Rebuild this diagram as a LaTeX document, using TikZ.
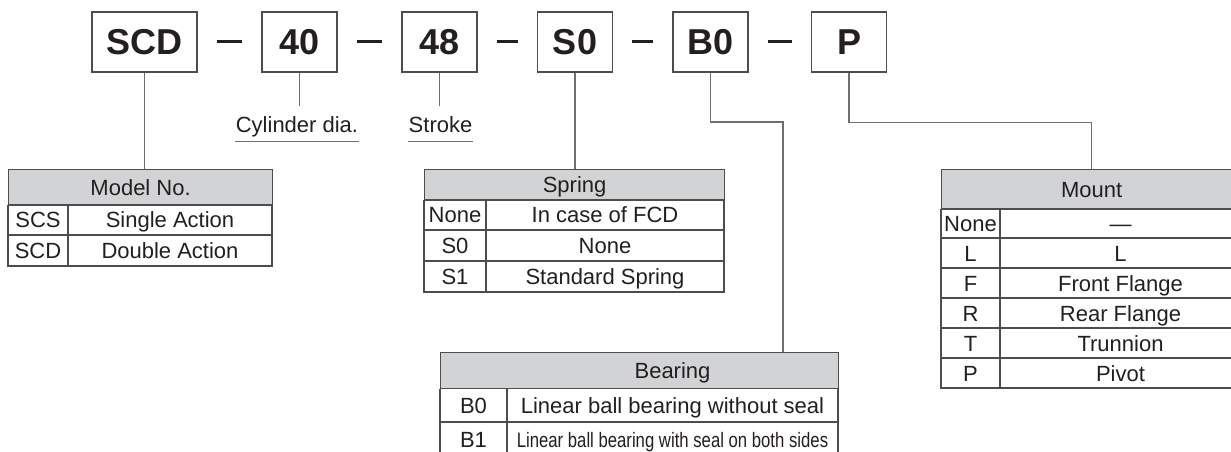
\documentclass[tikz,border=0pt]{standalone}
\usepackage{fontspec}
\setmainfont{Liberation Sans}
\usetikzlibrary{positioning}
\definecolor{ink}{HTML}{231F20}
\definecolor{rule}{HTML}{4D4D4F}
\definecolor{leadc}{HTML}{6D6E70}
\definecolor{headc}{HTML}{D1D3D4}
\newcommand{\tabfont}{\fontsize{22}{26}\selectfont}
\tikzset{
  code/.style={draw=rule, line width=1.3pt, minimum width=75pt, minimum height=60pt,
    inner sep=0pt, text height=26pt, text depth=0pt, text=ink,
    font=\fontsize{36}{40}\selectfont\bfseries},
  hyph/.style={draw=ink, line width=3pt},
  lead/.style={draw=leadc, line width=1.2pt},
  thead/.style={draw=rule, fill=headc, line width=1.2pt, inner sep=0pt, anchor=north west,
    text height=16pt, text depth=0pt, text=ink, font=\tabfont},
  tab/.style={draw=rule, line width=1.2pt},
  txt/.style={inner sep=0pt, text height=16pt, text depth=0pt, text=ink, font=\tabfont},
  lbl/.style={inner xsep=1pt, inner ysep=0pt, text height=16pt, text depth=9pt, text=ink,
    font=\tabfont, anchor=base},
}
\begin{document}
\begin{tikzpicture}[x=1pt, y=-1pt]
\useasboundingbox (0,0) rectangle (1231,452);
\clip (0,0) rectangle (1231,452);

% code boxes
\node[code, minimum width=105pt] (scd) at (144.5,42) {SCD};
\node[code] (c40) at (299.5,42) {40};
\node[code] (c48) at (439.5,42) {48};
\node[code] (s0) at (575,42) {S0};
\node[code] (b0) at (710.5,42) {B0};
\node[code] (p) at (849,42) {P};
\foreach \a/\b in {scd/c40, c40/c48, c48/s0, s0/b0, b0/p}
  \draw[hyph] ([xshift=19pt]\a.east) -- ([xshift=-19pt]\b.west);

% labels
\node[lbl] (cyl) at (297,132) {Cylinder dia.};
\node[lbl] (stroke) at (440.5,132) {Stroke};
\draw[lead] (cyl.south west) -- (cyl.south east);
\draw[lead] (stroke.south west) -- (stroke.south east);
\draw[lead] (c40.south) -- ([yshift=10pt]c40.south |- cyl.north);
\draw[lead] (c48.south) -- ([yshift=10pt]c48.south |- stroke.north);

% Model No.
\node[thead, minimum width=264pt, minimum height=35pt] (model) at (8,169) {Model No.};
\draw[tab] (model.south west) rectangle (272,266);
\draw[tab] (8,235) -- (272,235);
\draw[tab] (68,204) -- (68,266);
\node[txt] (mscs) at (38,219.5) {SCS};
\node[txt] (msingle) at (170,219.5) {Single Action};
\node[txt] (mscd) at (38,250.5) {SCD};
\node[txt] (mdouble) at (170,250.5) {Double Action};

% Spring
\node[thead, minimum width=300pt, minimum height=30pt] (spring) at (424,169) {Spring};
\draw[tab] (spring.south west) rectangle (724,292);
\draw[tab] (424,230) -- (724,230);
\draw[tab] (424,261) -- (724,261);
\draw[tab] (486,199) -- (486,292);
\node[txt] (snone) at (455,214.5) {None};
\node[txt] (sfcd) at (605,214.5) {In case of FCD};
\node[txt] (ss0) at (455,245.5) {S0};
\node[txt] (snil) at (605,245.5) {None};
\node[txt] (ss1) at (455,276.5) {S1};
\node[txt] (sstd) at (605,276.5) {Standard Spring};

% Mount
\node[thead, minimum width=300pt, minimum height=39pt] (mount) at (941,169) {Mount};
\draw[tab] (mount.south west) rectangle (1241,388);
\foreach \y in {238,268,298,328,358}
  \draw[tab] (941,\y) -- (1241,\y);
\draw[tab] (1000,208) -- (1000,388);
\foreach \k/\v [count=\i] in {None/---, L/L, F/Front Flange, R/Rear Flange, T/Trunnion, P/Pivot}
{
  \node[txt] (mk\i) at (970.5,193+30*\i) {\k};
  \node[txt] (mv\i) at (1120.5,193+30*\i) {\v};
}

% Bearing
\node[thead, minimum width=398pt, minimum height=36pt] (bearing) at (440,352) {};
\node[txt] (bearingt) at (672.5,370) {Bearing};
\draw[tab] (bearing.south west) -- (440,470);
\draw[tab] (838,388) -- (838,470);
\draw[tab] (440,422) -- (838,422);
\draw[tab] (507,388) -- (507,470);
\node[txt] (bb0) at (473.5,405) {B0};
\node[txt] (bb0t) at (672.5,405) {Linear ball bearing without seal};
\node[txt] (bb1) at (473.5,439) {B1};
\node[txt] (bb1t) at (672.5,439) {\scalebox{0.76}[0.95]{Linear ball bearing with seal on both sides}};

% leaders to tables
\coordinate (bturn) at (783,122);
\draw[lead] (scd.south) -- (scd.south |- model.north);
\draw[lead] (s0.south) -- (s0.south |- spring.north);
\draw[lead] (b0.south) |- (bturn) -- (bturn |- bearing.north);
\draw[lead] (p.south) -- ++(0,50) -| (mount.north);
\end{tikzpicture}
\end{document}
